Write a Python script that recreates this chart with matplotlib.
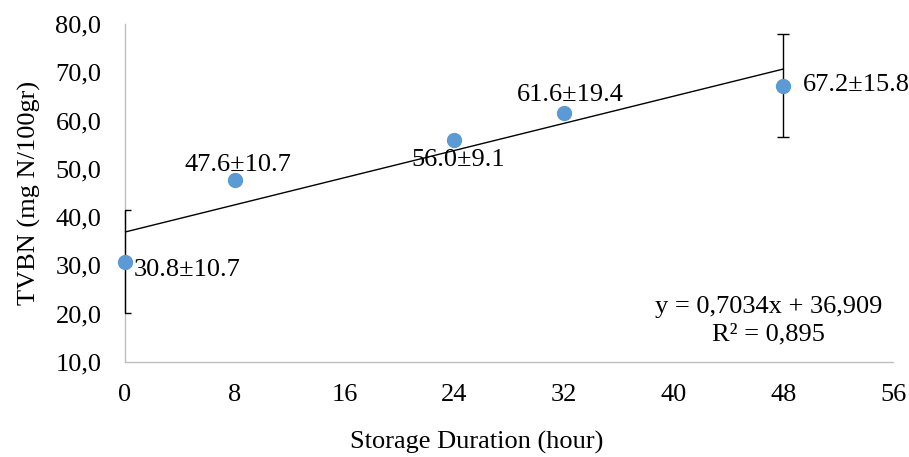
import matplotlib
matplotlib.use("Agg")
import numpy as np
import matplotlib.pyplot as plt
import matplotlib.ticker as ticker

# data
hours = [0, 8, 24, 32, 48]
tvbn = [30.8, 47.6, 56.0, 61.6, 67.2]
labels = ["30.8±10.7", "47.6±10.7", "56.0±9.1", "61.6±19.4", "67.2±15.8"]

# error bars are only drawn on the first and last points
err_x = [0, 48]
err_y = [30.8, 67.2]
err_size = [10.7, 10.7]

# linear trendline as printed on the chart
slope = 0.7034
intercept = 36.909
r2 = 0.895

FS = 19

plt.rcParams["font.family"] = ["Liberation Serif", "DejaVu Serif"]
plt.rcParams["font.size"] = FS

fig = plt.figure(figsize=(9.09, 4.57), dpi=100)
ax = fig.add_axes([0.1375, 0.208, 0.845, 0.7395])

blue = "#5b9bd5"
grey = "#bfbfbf"

eb = ax.errorbar(err_x, err_y, yerr=err_size, fmt="none", ecolor="black",
                 elinewidth=1.0, capsize=4.5, capthick=1.0, zorder=3)
# keep the vertical bar at x=0 fully visible on top of the axis line
for coll in eb[2]:
    coll.set_clip_on(False)

fit_x = np.array([hours[0], hours[-1]])
ax.plot(fit_x, slope * fit_x + intercept, color="black", linewidth=1.0,
        zorder=3)

ax.plot(hours, tvbn, linestyle="none", marker="o", markersize=10,
        color=blue, zorder=4, clip_on=False)

# value labels next to points (data units)
label_pos = [
    (0.65, 29.0, "left"),
    (8.2, 50.8, "center"),
    (24.3, 51.8, "center"),
    (32.5, 65.3, "center"),
    (49.4, 67.4, "left"),
]
for (lx, ly, ha), txt in zip(label_pos, labels):
    ax.text(lx, ly, txt, ha=ha, va="center", fontsize=FS, zorder=5)

ax.text(46.9, 21.4, f"y = {slope:.4f}x + {intercept:.3f}".replace(".", ","),
        ha="center", va="center", fontsize=FS)
ax.text(46.9, 15.6, f"R² = {r2:.3f}".replace(".", ","),
        ha="center", va="center", fontsize=FS)

ax.set_xlim(0, 56)
ax.set_ylim(10, 80)
ax.set_xticks(range(0, 57, 8))
ax.set_yticks(range(10, 81, 10))
ax.yaxis.set_major_formatter(
    ticker.FuncFormatter(lambda v, p: f"{v:.1f}".replace(".", ",")))

for side in ("top", "right"):
    ax.spines[side].set_visible(False)
for side in ("left", "bottom"):
    ax.spines[side].set_color(grey)
    ax.spines[side].set_linewidth(1.0)

ax.tick_params(axis="both", length=0, labelsize=FS)
ax.tick_params(axis="y", pad=17)
ax.tick_params(axis="x", pad=16)

ax.set_xlabel("Storage Duration (hour)", fontsize=FS, labelpad=16)
ax.xaxis.set_label_coords(0.458, -0.205)
ax.set_ylabel("TVBN (mg N/100gr)", fontsize=FS, labelpad=10)

fig.savefig("out.png", dpi=100)
